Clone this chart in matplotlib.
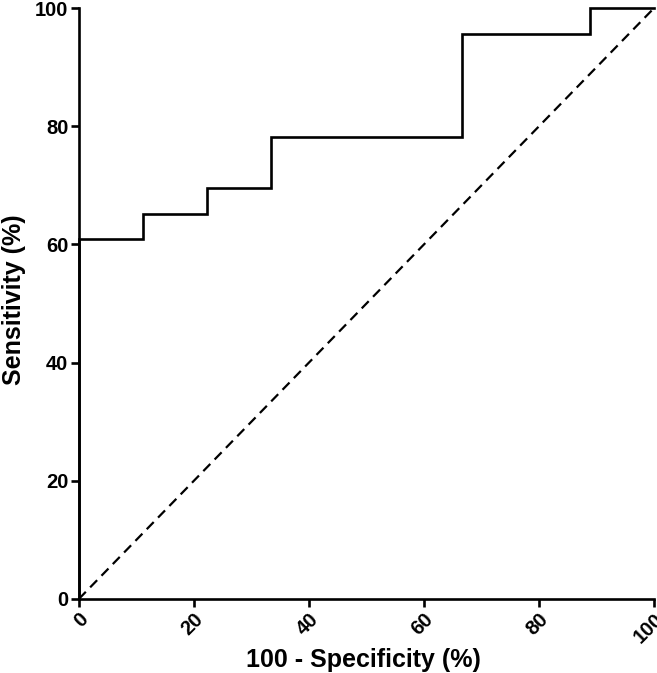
import matplotlib
matplotlib.use("Agg")
import matplotlib.pyplot as plt

# ROC step curve (9 negatives, 23 positives)
fpr = [0, 0, 11.11, 11.11, 22.22, 22.22, 33.33, 33.33, 66.67, 66.67, 88.89, 88.89, 100]
sens = [0, 60.87, 60.87, 65.22, 65.22, 69.57, 69.57, 78.26, 78.26, 95.65, 95.65, 100, 100]
ref_line = [0, 100]
ticks = [0, 20, 40, 60, 80, 100]

plt.rcParams["font.family"] = ["Liberation Sans", "DejaVu Sans"]

fig = plt.figure(figsize=(6.57, 6.73), dpi=100)
ax = fig.add_axes([0.120, 0.110, 0.8755, 0.878])

ax.plot(fpr, sens, color="black", lw=1.9, solid_joinstyle="miter", clip_on=False, zorder=3)
ax.plot(ref_line, ref_line, color="black", lw=1.6, ls=(0, (4.5, 2.8)), clip_on=False, zorder=2)

ax.set_xlim(0, 100)
ax.set_ylim(0, 100)
ax.set_xticks(ticks)
ax.set_yticks(ticks)
ax.set_xticklabels([str(t) for t in ticks], rotation=45, ha="right", va="top",
                   rotation_mode="anchor", fontweight="bold", fontsize=14.5)
ax.set_yticklabels([str(t) for t in ticks], fontweight="bold", fontsize=14.5)

for side in ["top", "right"]:
    ax.spines[side].set_visible(False)
for side in ["left", "bottom"]:
    ax.spines[side].set_linewidth(1.9)
ax.tick_params(direction="out", length=6, width=1.9, pad=1.5)

label_font = ["Liberation Sans Narrow", "Liberation Sans", "DejaVu Sans"]
ax.set_xlabel("100 - Specificity (%)", family=label_font, fontweight="bold", fontsize=18)
ax.set_ylabel("Sensitivity (%)", family=label_font, fontweight="bold", fontsize=18)
ax.xaxis.label.set_va("center")
ax.yaxis.label.set_va("center")
ax.xaxis.set_label_coords(0.495, -0.103)
ax.yaxis.set_label_coords(-0.113, 0.506)

fig.savefig("out.png", dpi=100)
